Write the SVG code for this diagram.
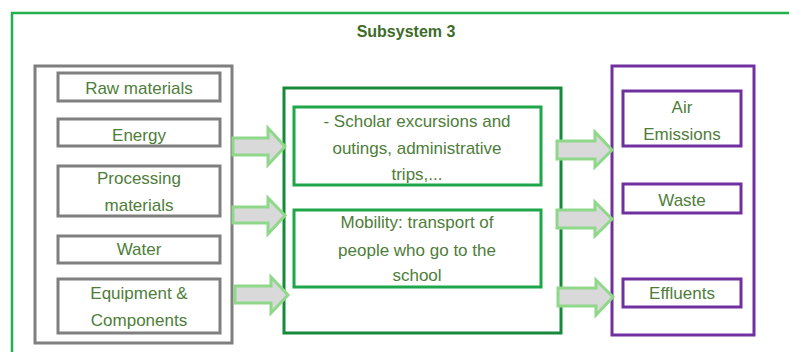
<svg xmlns="http://www.w3.org/2000/svg" width="789" height="352" viewBox="0 0 789 352">
<style>
text{font-family:"Liberation Sans",Arial,sans-serif;font-size:17px;fill:#4e7d3a;text-anchor:middle}
.title{font-weight:bold;font-size:16px;fill:#3d6b2a}
.gray{fill:#fff;stroke:#7f7f7f;stroke-width:3}
.green{fill:#fff;stroke:#1fa64a;stroke-width:3}
.dgreen{fill:#fff;stroke:#168a3a;stroke-width:3}
.purple{fill:#fff;stroke:#7030a0;stroke-width:3}
.arrow{fill:#d9d9d9;stroke:#8fd88a;stroke-width:3;stroke-linejoin:miter}
</style>
<rect width="789" height="352" fill="#fff"/>
<g id="frame">
<rect x="12" y="13" width="790" height="350" fill="none" stroke="#22b14c" stroke-width="2.5"/>
<text class="title" x="406" y="37">Subsystem 3</text>
</g>
<g id="inputs">
<rect class="gray" x="35" y="66" width="197" height="277"/>
</g>
<g id="raw"><rect class="gray" x="58" y="73" width="162" height="28"/><text x="139" y="94">Raw materials</text></g>
<g id="energy"><rect class="gray" x="58" y="119" width="162" height="27"/><text x="139" y="141">Energy</text></g>
<g id="processing"><rect class="gray" x="58" y="166" width="162" height="50"/><text x="139" y="184">Processing</text><text x="139" y="211">materials</text></g>
<g id="water"><rect class="gray" x="58" y="236" width="162" height="27"/><text x="139" y="255">Water</text></g>
<g id="equipment"><rect class="gray" x="58" y="279" width="162" height="54"/><text x="139" y="299">Equipment &amp;</text><text x="139" y="326">Components</text></g>
<g id="process">
<rect class="dgreen" x="284" y="88" width="277" height="245"/>
</g>
<g id="excursions"><rect class="green" x="294" y="107" width="247" height="78"/><text x="417" y="127">- Scholar excursions and</text><text x="417" y="154">outings, administrative</text><text x="417" y="180">trips,...</text></g>
<g id="mobility"><rect class="green" x="294" y="210" width="247" height="77"/><text x="417" y="228">Mobility: transport of</text><text x="417" y="256">people who go to the</text><text x="417" y="281">school</text></g>
<g id="outputs">
<rect class="purple" x="612" y="66" width="142" height="269"/>
</g>
<g id="air"><rect class="purple" x="623" y="91" width="118" height="55"/><text x="682" y="113">Air</text><text x="682" y="140">Emissions</text></g>
<g id="waste"><rect class="purple" x="623" y="184" width="118" height="29"/><text x="682" y="206">Waste</text></g>
<g id="effluents"><rect class="purple" x="623" y="279" width="118" height="28"/><text x="682" y="299">Effluents</text></g>
<g id="connectors">
<path class="arrow" d="M233,138 H268 V128 L285,146.5 L268,165 V155 H233 Z"/>
<path class="arrow" d="M233,207 H268 V198 L285,215.5 L268,234 V223 H233 Z"/>
<path class="arrow" d="M235,286 H271 V277 L288,295 L271,313 V303 H235 Z"/>
<path class="arrow" d="M557,141 H595 V132 L612,150 L595,167 V159 H557 Z"/>
<path class="arrow" d="M557,210 H595 V202 L612,219 L595,236 V228 H557 Z"/>
<path class="arrow" d="M558,288 H596 V280 L613,297 L596,315 V306 H558 Z"/>
</g>
</svg>
